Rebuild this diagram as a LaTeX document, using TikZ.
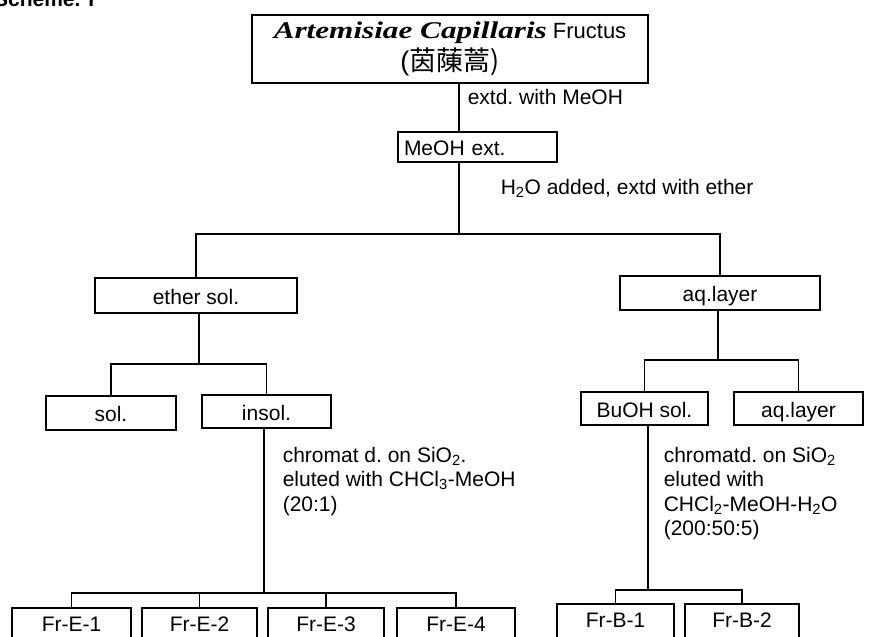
\documentclass[tikz,border=0pt]{standalone}
\usepackage{fontspec}
\setmainfont{Liberation Sans}
\newfontfamily\latinserif{Liberation Serif}
\newfontfamily\cjk{Noto Sans CJK TC}
\usepackage{tikz}

\begin{document}
\begin{tikzpicture}[x=1pt, y=-1pt, line width=1.6pt,
        box/.style={rectangle, draw, minimum height=34pt, inner sep=0pt, text height=19pt, text depth=2pt},
        frbox/.style={box, minimum height=36pt, text height=15pt, text depth=5pt},
        note/.style={anchor=north west, align=left, inner sep=0pt}]
        \tikzstyle{every node}=[font=\fontsize{21}{24.5}\selectfont\frenchspacing]
        \useasboundingbox (0,0) rectangle (871,637);

        % Nodes
        \node (title) [anchor=base west, font=\fontsize{21}{24}\selectfont\bfseries] at (-10,6) {Scheme. I};
        \node (crude) [rectangle, draw, minimum width=396pt, minimum height=68pt, inner sep=0pt, align=center,
            font=\fontsize{22}{32}\selectfont] at (450,49)
            {\scalebox{1.3}[1]{\fontsize{24}{24}\selectfont\latinserif\bfseries\itshape Artemisiae Capillaris}\ Fructus\\
             {\fontsize{27}{32}\selectfont(\cjk 茵蔯蒿)}};
        \node (meoh) [box, minimum height=30pt, text width=147pt, inner xsep=6pt, align=left] at (477.5,147) {MeOH ext.};
        \node (ether) [box, minimum width=202pt, minimum height=35pt] at (196,295.5) {ether sol.};
        \node (aq) [box, minimum width=200pt] at (720,293) {aq.layer};
        \node (sol) [box, minimum width=130pt] at (111,413) {sol.};
        \node (insol) [box, minimum width=129pt, minimum height=33pt] at (266.5,411.5) {insol.};
        \node (buoh) [box, minimum width=127pt, minimum height=33pt] at (644.5,408.5) {BuOH sol.};
        \node (aqtwo) [box, minimum width=129pt, minimum height=33pt] at (798.5,408.5) {aq.layer};
        \node (fre1) [frbox, minimum width=119pt] at (71.5,626) {Fr-E-1};
        \node (fre2) [frbox, minimum width=115pt] at (199.5,626) {Fr-E-2};
        \node (fre3) [frbox, minimum width=116pt] at (326,626) {Fr-E-3};
        \node (fre4) [frbox, minimum width=118pt] at (456,626) {Fr-E-4};
        \node (frb1) [frbox, minimum width=117pt] at (615.5,622) {Fr-B-1};
        \node (frb2) [frbox, minimum width=114pt] at (742,622) {Fr-B-2};

        % Labels
        \node (extd) [note, anchor=west] at (467,97) {extd. with MeOH};
        \node (water) [note, anchor=west] at (500,188) {H\textsubscript{2}O added, extd with ether};
        \node (silica) [note] at (282,446) {chromat d. on SiO\textsubscript{2}.\\eluted with CHCl\textsubscript{3}-MeOH\\(20:1)};
        \node (silicab) [note] at (663,446) {chromatd. on SiO\textsubscript{2}\\eluted with\\CHCl\textsubscript{2}-MeOH-H\textsubscript{2}O\\(200:50:5)};

        % Junctions
        \coordinate (trunk) at (459,234);
        \coordinate (ej) at (199,364);
        \coordinate (aj) at (718,360);
        \coordinate (fe) at (264,593);
        \coordinate (fb) at (648,590);

        % Edges
        \draw (crude.south -| trunk) -- (meoh.north -| trunk);
        \draw (meoh.south -| trunk) -- (trunk);
        \draw (ether.north) |- (trunk) -| (aq.north);
        \draw (ether.south -| ej) -- (ej);
        \draw (sol.north) |- (ej) -| (insol.north);
        \draw (aq.south -| aj) -- (aj);
        \draw (buoh.north) |- (aj) -| (aqtwo.north);
        \draw (insol.south -| fe) -- (fe);
        \draw (fre1.north) |- (fe) -| (fre4.north);
        \draw (fre2.north) -- (fre2.north |- fe);
        \draw (fre3.north) -- (fre3.north |- fe);
        \draw (buoh.south -| fb) -- (fb);
        \draw (frb1.north) |- (fb) -| (frb2.north);

    \end{tikzpicture}
\end{document}
